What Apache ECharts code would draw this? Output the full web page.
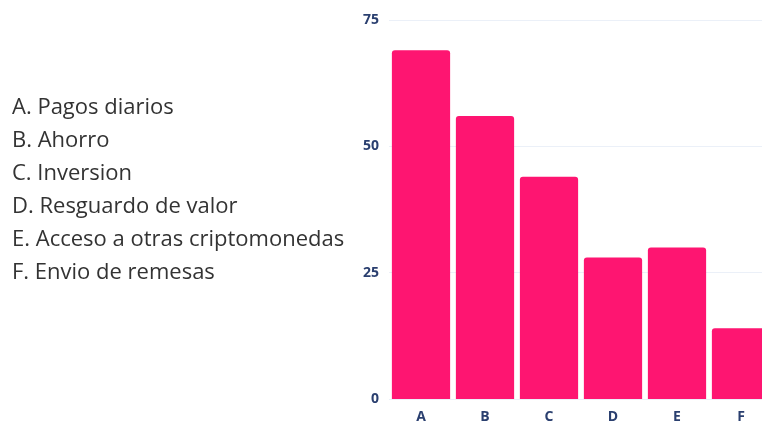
<!DOCTYPE html>
<html><head><meta charset="utf-8">
<script src="https://cdn.jsdelivr.net/npm/echarts@6/dist/echarts.min.js"></script>
<style>html,body{margin:0;padding:0;background:#fff;overflow:hidden}#c{width:773px;height:426px}</style>
</head><body><div id="c"></div>
<script>
const categories = ['A','B','C','D','E','F'];
const descriptions = ['A. Pagos diarios','B. Ahorro','C. Inversion','D. Resguardo de valor','E. Acceso a otras criptomonedas','F. Envio de remesas'];
const values = [69, 56, 44, 28, 30, 14];
const yTicks = [0, 25, 50, 75];

const chart = echarts.init(document.getElementById('c'), null, {renderer:'canvas'});
chart.setOption({
  animation: false,
  title: {
    text: descriptions.join('\n'),
    left: 7, top: 86,
    textStyle: {fontFamily: 'Open Sans', fontSize: 22, fontWeight: 'normal', color: '#333', lineHeight: 33}
  },
  grid: {left: 389, top: 20, right: 0, bottom: 27, containLabel: false},
  xAxis: {
    type: 'category', data: categories,
    axisLine: {show: false}, axisTick: {show: false},
    axisLabel: {margin: 11, fontFamily: 'Open Sans', fontWeight: 'bold', fontSize: 14, color: '#2a3f6f'}
  },
  yAxis: {
    type: 'value', min: yTicks[0], max: yTicks[yTicks.length-1], interval: 25,
    axisLine: {show: false}, axisTick: {show: false},
    axisLabel: {margin: 10, fontFamily: 'Open Sans', fontWeight: 'bold', fontSize: 14, color: '#2a3f6f'},
    splitLine: {lineStyle: {color: '#ebf0f8', width: 1}}
  },
  series: [{
    type: 'bar', data: values, barCategoryGap: '9%',
    itemStyle: {color: '#fe1571', borderRadius: [3,3,0,0]}
  }]
});
</script></body></html>
